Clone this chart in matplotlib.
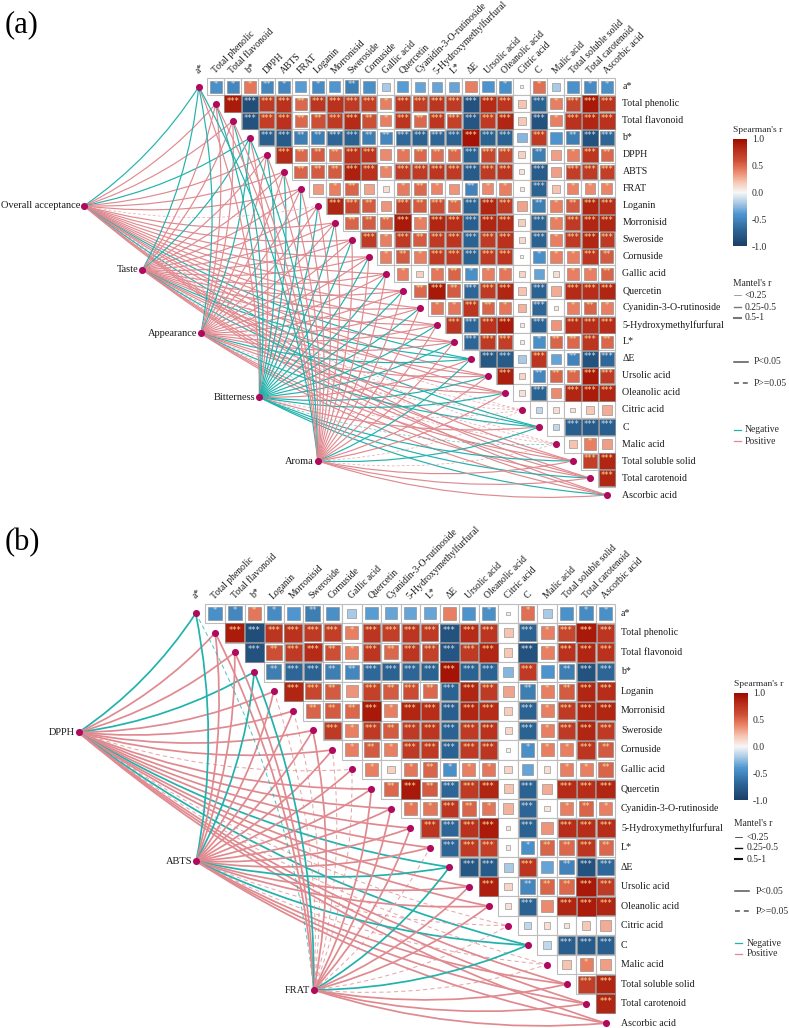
import numpy as np
import matplotlib
matplotlib.use('Agg')
import matplotlib.pyplot as plt
from matplotlib.colors import LinearSegmentedColormap, Normalize
from matplotlib.cm import ScalarMappable
from matplotlib.patches import Rectangle, PathPatch
from matplotlib.path import Path

plt.rcParams['font.family'] = ['Liberation Serif', 'DejaVu Serif']

variables = ['a*', 'Total phenolic', 'Total flavonoid', 'b*', 'DPPH', 'ABTS', 'FRAT', 'Loganin',
             'Morronisid', 'Sweroside', 'Cornuside', 'Gallic acid', 'Quercetin',
             'Cyanidin-3-O-rutinoside', '5-Hydroxymethylfurfural', 'L*', 'ΔE', 'Ursolic acid',
             'Oleanolic acid', 'Citric acid', 'C', 'Malic acid', 'Total soluble solid',
             'Total carotenoid', 'Ascorbic acid']

# Spearman's r, upper triangle, one row per variable
r_rows = [
    [-.45, -.5, .45, -.5, -.5, -.38, -.47, -.4, -.55, -.45, -.2, -.38, -.35, -.35, -.35, .42, -.42, -.45, -.03, .47, -.2, -.43, -.47, -.45],
    [.9, -.88, .72, .78, .5, .75, .78, .72, .7, .42, .75, .7, .75, .72, -.85, .82, .75, .2, -.72, .42, .65, .92, .75],
    [-.85, .7, .78, .5, .6, .72, .82, .6, .42, .75, .5, .75, .68, -.82, .72, .85, .18, -.85, .42, .78, .85, .78],
    [-.75, -.78, -.55, -.55, -.7, -.72, -.55, -.5, -.68, -.72, -.7, -.72, .95, -.72, -.72, -.28, .72, -.42, -.55, -.85, -.7],
    [.82, .5, .55, .48, .78, .75, .38, .45, .5, .48, .5, -.72, .65, .65, .15, -.55, .32, .42, .75, .5],
    [.52, .55, .55, .88, .78, .4, .72, .72, .75, .72, -.78, .72, .75, .08, -.78, .32, .7, .72, .7],
    [.33, .42, .52, .3, .1, .43, .5, .4, .35, -.52, .38, .42, .06, -.72, .2, .4, .38, .4],
    [.85, .65, .55, .35, .68, .55, .62, .5, -.72, .85, .72, .3, -.55, .42, .55, .85, .8],
    [.52, .55, .5, .92, .42, .85, .8, -.75, .85, .82, .16, -.72, .42, .72, .85, .85],
    [.72, .42, .72, .55, .72, .75, -.72, .72, .78, .12, -.72, .42, .72, .85, .72],
    [.42, .55, .42, .72, .72, -.72, .72, .75, .03, -.45, .42, .42, .75, .55],
    [.42, .15, .45, .52, -.45, .42, .45, .14, -.35, .1, .42, .42, .52],
    [.5, .92, .55, -.7, .72, .85, .2, -.72, .28, .82, .8, .85],
    [.45, .45, .75, .52, .45, .25, -.7, .07, .42, .52, .42],
    [.75, -.7, .78, .9, .06, -.72, .35, .8, .8, .8],
    [-.7, .72, .7, .05, -.45, .52, .5, .75, .5],
    [-.8, -.78, -.2, .75, -.35, -.52, -.85, -.68],
    [.88, .14, -.5, .52, .5, .92, .72],
    [.09, -.72, .38, .85, .9, .85],
    [-.14, .1, .08, .18, .28],
    [-.14, -.75, -.78, -.75],
    [.2, .42, .32],
    [.7, .85],
    [.85],
]

# Significance stars for the same cells
star_rows = [
    [1, 1, 1, 2, 1, 0, 1, 0, 2, 0, 0, 0, 0, 0, 0, 0, 0, 1, 0, 1, 0, 0, 1, 1],
    [3, 3, 3, 3, 2, 3, 3, 3, 3, 1, 3, 3, 3, 3, 3, 3, 3, 0, 3, 1, 3, 3, 3],
    [3, 3, 3, 2, 2, 3, 3, 2, 1, 3, 2, 3, 3, 3, 3, 3, 0, 3, 1, 3, 3, 3],
    [3, 3, 2, 2, 3, 3, 2, 2, 3, 3, 3, 3, 3, 3, 3, 0, 3, 0, 2, 3, 3],
    [3, 2, 2, 2, 3, 3, 0, 1, 2, 2, 2, 3, 3, 3, 0, 2, 0, 1, 3, 2],
    [2, 2, 2, 3, 3, 1, 3, 3, 3, 3, 3, 3, 3, 0, 3, 0, 3, 3, 3],
    [0, 1, 2, 0, 0, 1, 2, 1, 0, 2, 1, 1, 0, 3, 0, 1, 1, 1],
    [3, 3, 2, 0, 3, 2, 3, 2, 3, 3, 3, 0, 2, 1, 2, 3, 3],
    [2, 2, 2, 3, 1, 3, 3, 3, 3, 3, 0, 3, 1, 3, 3, 3],
    [3, 1, 3, 2, 3, 3, 3, 3, 3, 0, 3, 1, 3, 3, 3],
    [1, 2, 1, 3, 3, 3, 3, 3, 0, 1, 1, 1, 3, 2],
    [1, 0, 1, 2, 1, 1, 1, 0, 0, 0, 1, 1, 2],
    [2, 3, 2, 3, 3, 3, 0, 3, 0, 3, 3, 3],
    [1, 1, 3, 2, 1, 0, 3, 0, 1, 2, 1],
    [3, 3, 3, 3, 0, 3, 0, 3, 3, 3],
    [3, 3, 3, 0, 1, 2, 2, 3, 2],
    [3, 3, 0, 3, 0, 2, 3, 3],
    [3, 0, 2, 2, 2, 3, 3],
    [0, 3, 0, 3, 3, 3],
    [0, 0, 0, 0, 0],
    [0, 3, 3, 3],
    [0, 1, 0],
    [3, 3],
    [3],
]

# Mantel links for each spoke, one letter per variable:
# P/N solid positive/negative (p<0.05), p/n dashed (p>=0.05)
spokes_a = ['Overall acceptance', 'Taste', 'Appearance', 'Bitterness', 'Aroma']
overall_links = 'NPPNPPPpPPPPPPPPNPPpNpPPP'
taste_links = 'NPPNPPPPPPPPPPPPNPPpNpPPP'
appearance_links = 'NPPNPPPPPPPPPPPPNPPpNpPPP'
bitterness_links = 'PNNPNNNNNNNNNNNNPNNpPnNNN'
aroma_links = 'NPPNPPPPPPPPPPPPNPPpNpPPP'

removed_b = ['DPPH', 'ABTS', 'FRAT']
spokes_b = ['DPPH', 'ABTS', 'FRAT']
dpph_links = 'NPPNPPPPpPPPPNPPpNpPPP'
abts_links = 'NPPNPPPPPPPPPNPPpNpPPP'
frat_links = 'nPPNppPppPPPpNPPpNpPPP'

cbar_ticks = [1.0, 0.5, 0.0, -0.5, -1.0]
mantel_labels = ['<0.25', '0.25-0.5', '0.5-1']
p_labels = ['P<0.05', 'P>=0.05']
sign_labels = ['Negative', 'Positive']

TEAL = '#22B2AC'
PINK = '#E08A90'
NODE = '#B00A5E'
TEXT = '#1A1A1A'
LEGEND_TEXT = '#2A2A2A'

cmap = LinearSegmentedColormap.from_list('spearman', [
    (0.0, '#1A3F66'), (0.15, '#2C6596'), (0.3, '#4F97D2'), (0.4, '#A9C9E4'), (0.5, '#F7F7F7'),
    (0.6, '#F6C4B0'), (0.7, '#EB8468'), (0.8, '#CC4F35'), (0.9, '#B82E1A'), (1.0, '#9E0B00')])
norm = Normalize(-1, 1)

W, H = 789, 1028
fig = plt.figure(figsize=(W / 100, H / 100), dpi=100, facecolor='white')


def curve(ax, p0, p1, color, dashed, lw, bend=0.1):
    # quadratic curve bowing to the right of the travel direction
    p0, p1 = np.array(p0, float), np.array(p1, float)
    d = p1 - p0
    ctrl = (p0 + p1) / 2 + bend * np.array([-d[1], d[0]])
    path = Path([p0, ctrl, p1], [Path.MOVETO, Path.CURVE3, Path.CURVE3])
    ax.add_patch(PathPatch(path, fill=False, edgecolor=color, lw=lw * (0.6 if dashed else 1),
                           linestyle=(0, (4, 3)) if dashed else '-', alpha=0.75 if dashed else 1,
                           zorder=1, capstyle='butt'))


def draw_panel(x0, y0, step, names, keep, spokes, links, spoke_start, spoke_end, lw, label, label_y):
    ax = fig.add_axes([0, 0, 1, 1])
    ax.patch.set_alpha(0)
    ax.set_xlim(-x0 / step, (W - x0) / step)
    ax.set_ylim((H - y0) / step, -y0 / step)
    ax.axis('off')
    n = len(names)

    # links first so the nodes and cells sit on top
    sx = np.linspace(spoke_start[0], spoke_end[0], len(spokes))
    sy = np.linspace(spoke_start[1], spoke_end[1], len(spokes))
    for s, code in enumerate(links):
        for k, c in enumerate(code):
            curve(ax, (sx[s], sy[s]), (k, k), TEAL if c in 'Nn' else PINK, c.islower(), lw)

    for pos, i in enumerate(keep):
        for q, j in enumerate(keep):
            if q <= pos:
                continue
            val = r_rows[i][j - i - 1]
            st = star_rows[i][j - i - 1]
            ax.add_patch(Rectangle((q - .5, pos - .5), 1, 1, fc='white', ec='#BDBDBD', lw=0.8, zorder=2))
            side = min(1.0, np.sqrt(abs(val)) * 1.03)
            ax.add_patch(Rectangle((q - side / 2, pos - side / 2), side, side, fc=cmap(norm(val)),
                                   ec='#858585', lw=0.4, zorder=3))
            if st:
                ax.text(q, pos - 2.4 / step, '*' * st, color='#FAD991' if val > 0 else '#D3DDE6', fontsize=6,
                        ha='center', va='center', family='DejaVu Sans', zorder=4)

    ax.scatter(range(n), range(n), s=26, color=NODE, lw=0, zorder=5)
    ax.scatter(sx, sy, s=26, color=NODE, lw=0, zorder=5)

    for s, name in enumerate(spokes):
        ax.text(sx[s] - 4 / step, sy[s], name, ha='right', va='center', fontsize=7.5, color=TEXT)
    for k, name in enumerate(names):
        ax.text(n - 1 + 15.5 / step, k, name, ha='left', va='center', fontsize=7.1, color=TEXT)
        ax.text(k - 2 / step, -7 / step - 0.45, name, ha='left', va='center', rotation=45, rotation_mode='anchor',
                fontsize=6.9, color=TEXT)

    ax.text(5 / step + ax.get_xlim()[0], (label_y - y0) / step, label, fontsize=22, ha='left', va='center')
    return ax


def draw_legend(leg, top, x_title):
    # colour bar
    cax = fig.add_axes([(x_title - 0.5) / W, 1 - (top + 116) / H, 14 / W, 107 / H])
    cb = fig.colorbar(ScalarMappable(norm=norm, cmap=cmap), cax=cax, ticks=cbar_ticks)
    cb.outline.set_visible(False)
    cax.tick_params(length=0, pad=4, labelsize=6.9, labelcolor=LEGEND_TEXT)
    cax.set_yticklabels(['%.1f' % t for t in cbar_ticks])
    leg.text(x_title, top, "Spearman's r", fontsize=6.8, va='center', color=LEGEND_TEXT)


leg = fig.add_axes([0, 0, 1, 1], zorder=-1)
leg.set_xlim(0, W)
leg.set_ylim(H, 0)
leg.axis('off')


def draw_keys(x, rows_m, rows_p, rows_s, title_y, dark, text_gap, p_gap):
    leg.text(x, title_y, "Mantel's r", fontsize=6.9, va='center', color=LEGEND_TEXT)
    for y, lab, lw in zip(rows_m, mantel_labels, [0.5, 1.0, 1.5]):
        leg.plot([x + 1, x + 8], [y, y], color=dark, lw=lw)
        leg.text(x + text_gap, y, lab, fontsize=6.9, va='center', color=LEGEND_TEXT)
    for y, lab, ls in zip(rows_p, p_labels, ['-', (0, (3.2, 2.6))]):
        leg.plot([x + 1, x + 15], [y, y], color='#555555', lw=1.1, linestyle=ls)
        leg.text(x + p_gap, y, lab, fontsize=6.9, va='center', color=LEGEND_TEXT)
    for y, lab, col in zip(rows_s, sign_labels, [TEAL, PINK]):
        leg.plot([x + 1, x + 8], [y, y], color=col, lw=0.9)
        leg.text(x + text_gap, y, lab, fontsize=6.9, va='center', color=LEGEND_TEXT)


keep_a = list(range(len(variables)))
draw_panel(198.7, 86.8, 17.01, variables, keep_a, spokes_a,
           [overall_links, taste_links, appearance_links, bitterness_links, aroma_links],
           (-6.74, 7.0), (7.0, 22.0), 0.85, '(a)', 25)

keep_b = [i for i, v in enumerate(variables) if v not in removed_b]
names_b = [variables[i] for i in keep_b]
draw_panel(195.7, 613.3, 19.52, names_b, keep_b, spokes_b, [dpph_links, abts_links, frat_links],
           (-6.0, 6.1), (6.05, 19.3), 1.25, '(b)', 543)

draw_legend(leg, 130, 733)
draw_legend(leg, 684, 734)
draw_keys(733, [295, 307, 318], [362, 383], [430, 441], 283, '#777777', 12, 21)
draw_keys(734, [837, 848, 859], [891, 911], [943, 954], 824, '#111111', 13, 22)

fig.savefig('out.png', dpi=100)
